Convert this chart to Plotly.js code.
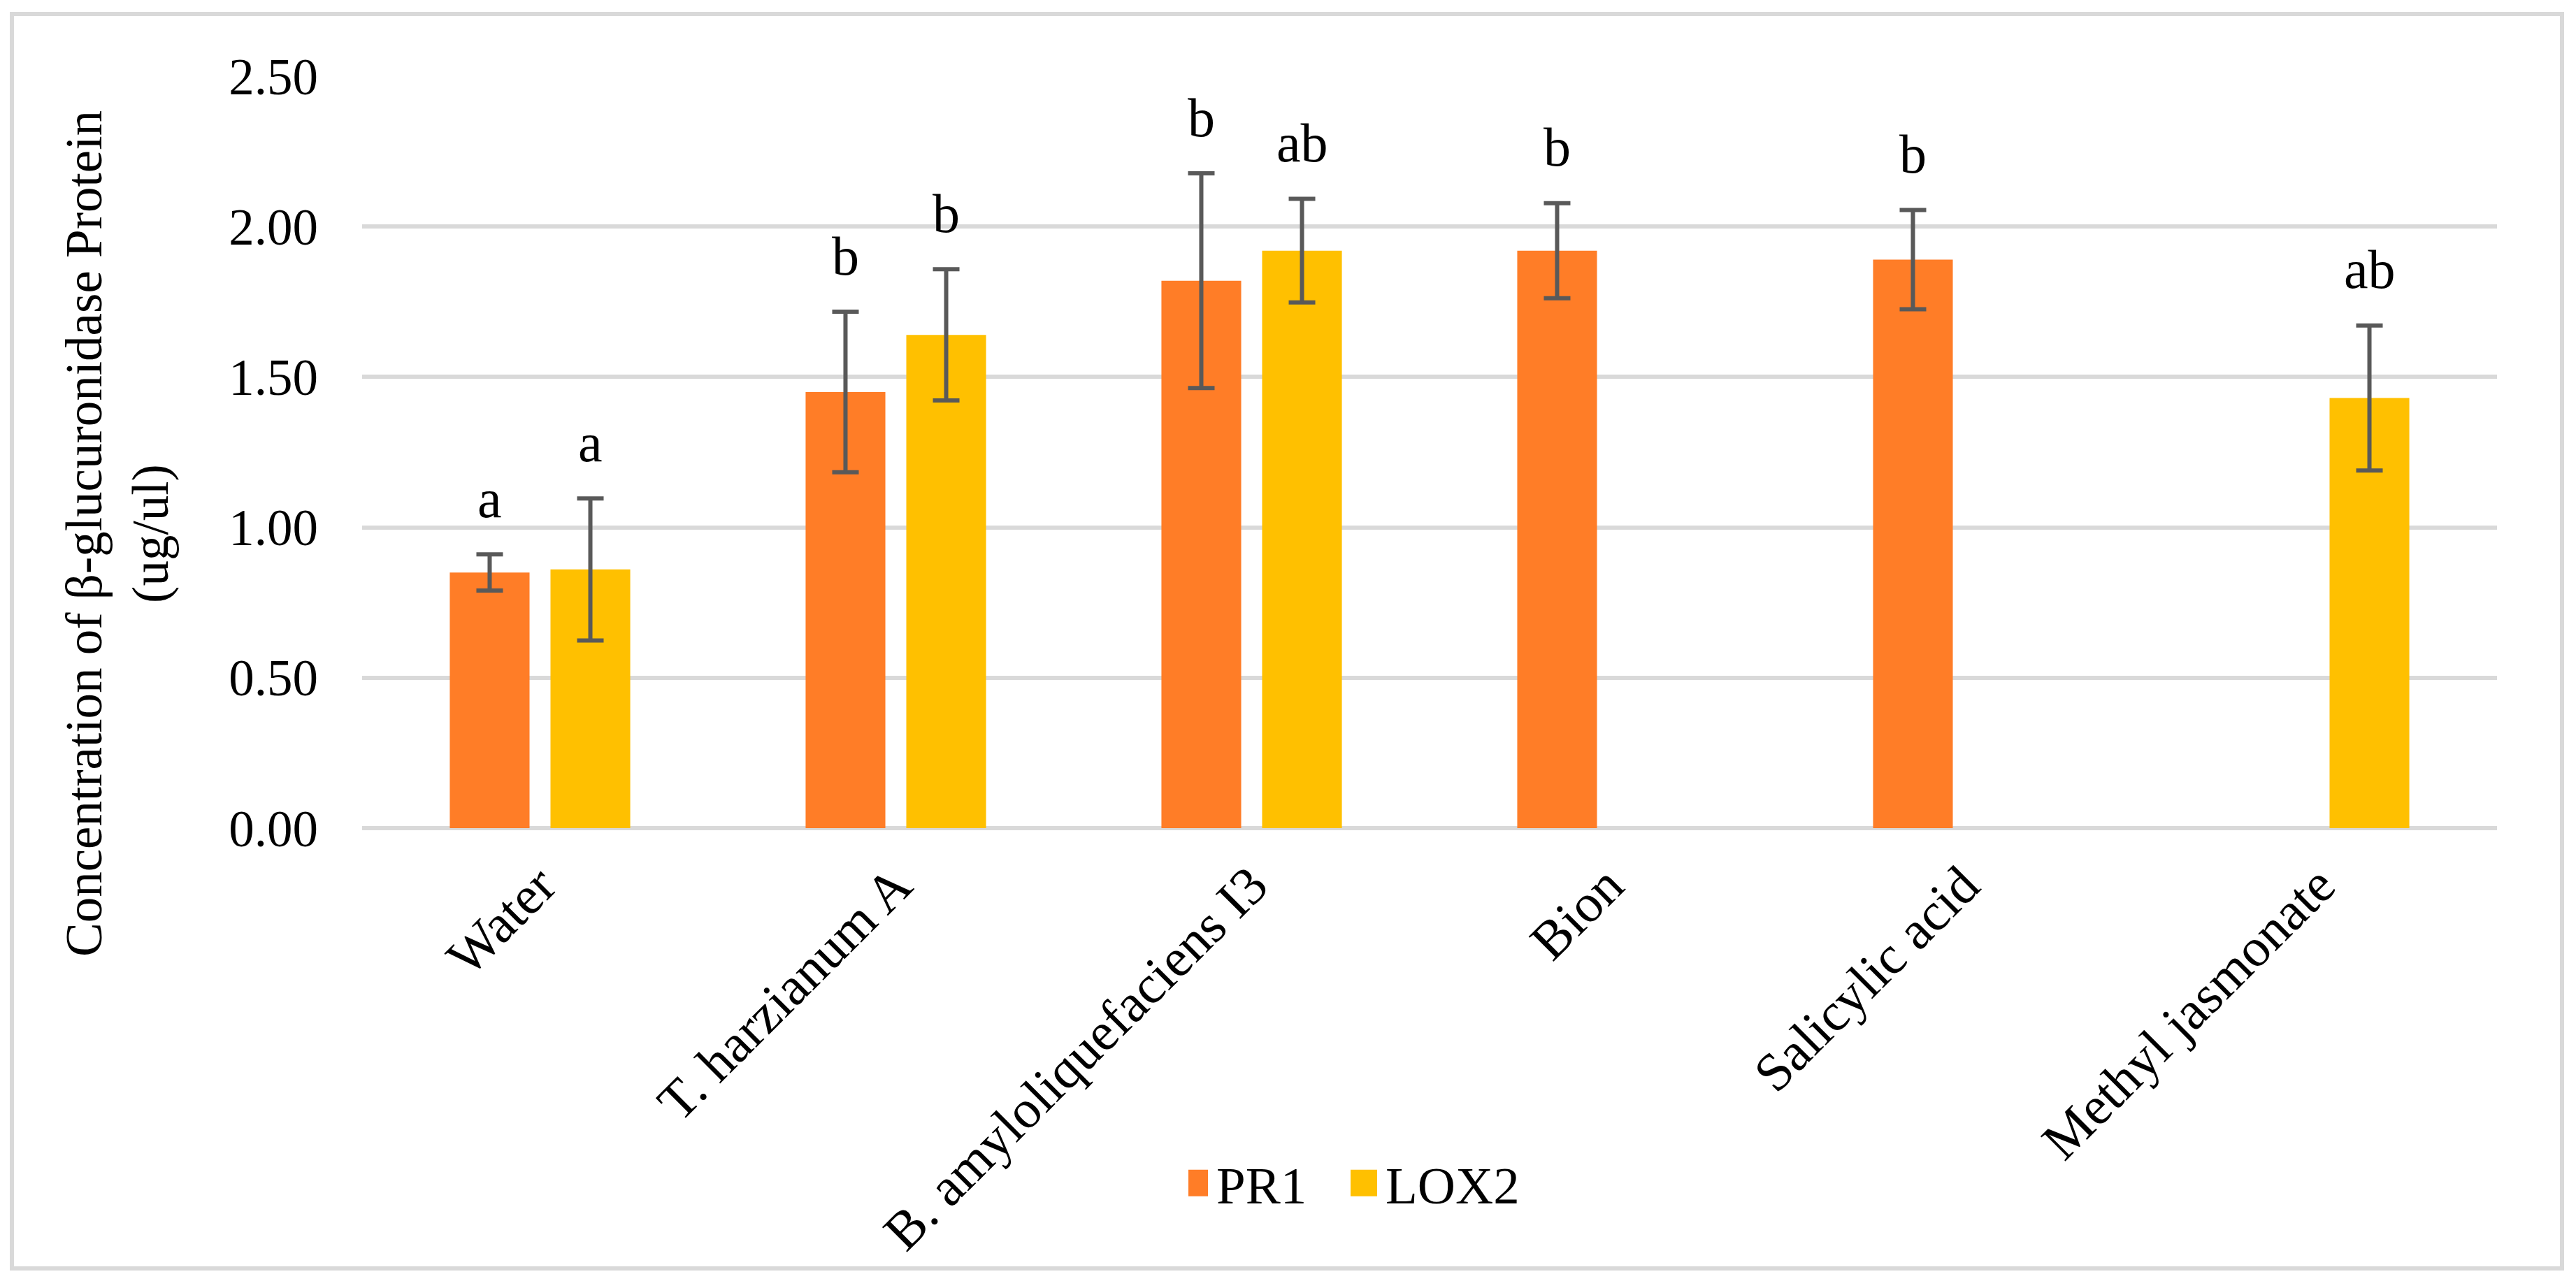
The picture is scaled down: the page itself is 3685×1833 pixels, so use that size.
<!DOCTYPE html>
<html>
<head>
<meta charset="utf-8">
<script src="https://cdn.plot.ly/plotly-3.0.1.min.js"></script>
<style>
html,body{margin:0;padding:0;background:#fff;}
#chart{width:3685px;height:1833px;}
</style>
</head>
<body>
<div id="chart"></div>
<script>
// ---- data ----
const categories = ["Water", "T. harzianum A", "B. amyloliquefaciens I3", "Bion", "Salicylic acid", "Methyl jasmonate"];
const pr1Values = [0.85, 1.45, 1.82, 1.92, 1.89, null];
const pr1Errors = [0.06, 0.267, 0.357, 0.158, 0.165, null];
const pr1Letters = ["a", "b", "b", "b", "b", null];
const lox2Values = [0.86, 1.64, 1.92, null, null, 1.43];
const lox2Errors = [0.236, 0.218, 0.172, null, null, 0.241];
const lox2Letters = ["a", "b", "ab", null, null, "ab"];
const yTicks = [0, 0.5, 1, 1.5, 2, 2.5];
const yTickLabels = ["0.00", "0.50", "1.00", "1.50", "2.00", "2.50"];
const yTitle = "Concentration of β-glucuronidase Protein<br>(ug/ul)";

const FONT = "Liberation Serif, Times New Roman, serif";
const ORANGE = "#FF7D27";
const YELLOW = "#FFC000";
const GRID = "#D9D9D9";

const traces = [
  {
    type: "bar", name: "PR1", x: categories, y: pr1Values,
    marker: {color: ORANGE},
    error_y: {type: "data", array: pr1Errors, visible: true, color: "#595959", thickness: 6, width: 19},
    hoverinfo: "none"
  },
  {
    type: "bar", name: "LOX2", x: categories, y: lox2Values,
    marker: {color: YELLOW},
    error_y: {type: "data", array: lox2Errors, visible: true, color: "#595959", thickness: 6, width: 19},
    hoverinfo: "none"
  }
];

const L = 518, R = 113, T = 109, B = 648;
const W = 3685, H = 1833;
const pw = W - L - R, ph = H - T - B;
function px2x(px){ return (px - L) / pw; }
function py2y(py){ return (H - B - py) / ph; }

const annotations = [];
function addLetters(letters, values, errors, shift) {
  letters.forEach((t, i) => {
    if (t === null || values[i] === null) return;
    annotations.push({
      x: categories[i], y: values[i] + errors[i], xref: "x", yref: "y",
      text: t, showarrow: false, xshift: shift, yshift: 80,
      font: {family: FONT, size: 78, color: "#000"}, xanchor: "center", yanchor: "middle"
    });
  });
}
addLetters(pr1Letters, pr1Values, pr1Errors, -72);
addLetters(lox2Letters, lox2Values, lox2Errors, 72);

// y-axis title (placed as rotated text, centred like the original)
annotations.push({
  xref: "paper", yref: "paper", x: px2x(168), y: py2y(764),
  text: yTitle, textangle: -90, showarrow: false,
  xanchor: "center", yanchor: "middle", align: "center",
  font: {family: FONT, size: 73, color: "#000"}
});

const layout = {
  width: W, height: H,
  margin: {l: L, r: R, t: T, b: B, pad: 0},
  paper_bgcolor: "#fff", plot_bgcolor: "#fff",
  font: {family: FONT, size: 72, color: "#000"},
  barmode: "group",
  bargap: 0.434,
  bargroupgap: 0.208,
  showlegend: true,
  legend: {
    orientation: "h", x: px2x(1700), y: py2y(1693), xanchor: "left", yanchor: "middle",
    font: {family: FONT, size: 75, color: "#000"}, itemwidth: 30, traceorder: "normal",
    entrywidth: 197, entrywidthmode: "pixels",
    bgcolor: "rgba(0,0,0,0)"
  },
  xaxis: {
    type: "category", tickangle: -45, showgrid: false, zeroline: false,
    showline: false, ticks: "", ticklabelstandoff: 20,
    tickfont: {family: FONT, size: 77, color: "#000"}, automargin: false
  },
  yaxis: {
    range: [0, 2.5], tickvals: yTicks, ticktext: yTickLabels,
    showgrid: true, gridcolor: GRID, gridwidth: 6, zeroline: false, showline: false,
    ticks: "", ticklabelstandoff: 62,
    tickfont: {family: FONT, size: 73, color: "#000"},
    automargin: false
  },
  annotations: annotations,
  shapes: [
    {type: "line", xref: "paper", yref: "paper", x0: 0, x1: 1, y0: 0, y1: 0, line: {color: GRID, width: 6}, layer: "below"},
    {type: "rect", xref: "paper", yref: "paper", x0: px2x(17), x1: px2x(3665), y0: py2y(1815), y1: py2y(20), line: {color: GRID, width: 6}, fillcolor: "rgba(0,0,0,0)"}
  ]
};

Plotly.newPlot("chart", traces, layout, {displayModeBar: false, staticPlot: true}).then(gd => {
  // enlarge the legend colour squares to match the original swatch size
  gd.querySelectorAll(".legend .legendpoints path").forEach(p => {
    p.setAttribute("d", "M8,19H-30V-19H8Z");
    p.style.strokeWidth = "0";
  });
});
</script>
</body>
</html>
